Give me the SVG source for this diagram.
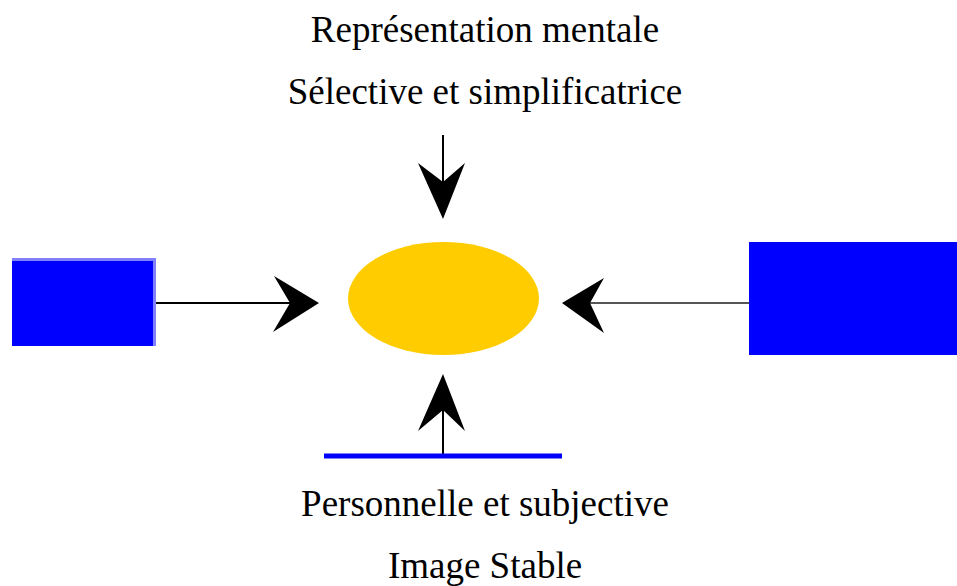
<svg xmlns="http://www.w3.org/2000/svg" width="957" height="586" viewBox="0 0 957 586">
<style>
.t{font-family:"Liberation Serif","Times New Roman",serif;font-size:37px;fill:#000;text-anchor:middle}
.ln{stroke:#000;stroke-width:2;fill:none}
.ah{fill:#000}
</style>
<rect width="957" height="586" fill="#fff"/>
<g id="connectors">
<line class="ln" x1="443" y1="135" x2="443" y2="184"/>
<polygon class="ah" points="418,163 443,182 465,163 443,219"/>
<line class="ln" x1="156" y1="303" x2="292" y2="303"/>
<polygon class="ah" points="274,276 290,303 273,332 319,303"/>
<line x1="588" y1="303" x2="749" y2="303" stroke="#555" stroke-width="2"/>
<polygon class="ah" points="604,278 590,303 604,333 562,303"/>
<line class="ln" x1="443" y1="408" x2="443" y2="458"/>
<polygon class="ah" points="418,431 443,410 465,431 443,374"/>
</g>
<g id="title">
<text class="t" x="485" y="42">Représentation mentale</text>
<text class="t" x="485" y="104">Sélective et simplificatrice</text>
</g>
<g id="left-box">
<rect x="12" y="258" width="144" height="88" fill="#8080ff"/>
<rect x="12" y="261" width="141" height="85" fill="#0000ff"/>
</g>
<g id="right-box">
<rect x="749" y="242" width="208" height="113" fill="#0000ff"/>
</g>
<g id="center">
<ellipse cx="443.5" cy="298.5" rx="95.5" ry="56.5" fill="#ffcc00"/>
</g>
<g id="bottom-bar">
<rect x="324" y="453.5" width="238" height="5" fill="#0000ff"/>
</g>
<g id="bottom-text">
<text class="t" x="485" y="516">Personnelle et subjective</text>
<text class="t" x="485" y="578">Image Stable</text>
</g>
</svg>
